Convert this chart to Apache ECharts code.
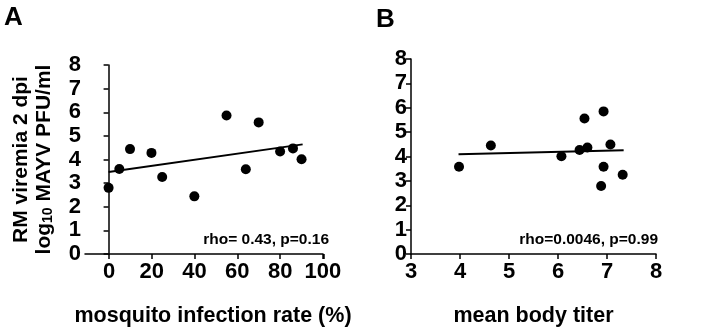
<!DOCTYPE html>
<html>
<head>
<meta charset="utf-8">
<script src="https://cdn.jsdelivr.net/npm/echarts@6/dist/echarts.min.js"></script>
<style>
  html, body { margin: 0; height: 100%; background: #fff; }
  #chart { width: 720px; height: 332px; }
</style>
</head>
<body>
<div id="chart"></div>
<script>
  // panel A: mosquito infection rate (%) vs viremia
  const infectionRate = [0, 5, 10, 20, 25, 40, 55, 64, 70, 80, 86, 90];
  const viremiaA = [2.8, 3.6, 4.44, 4.28, 3.26, 2.44, 5.86, 3.59, 5.57, 4.34, 4.47, 4.01];
  const fitA = [[0, 3.47], [90.5, 4.64]];

  // panel B: mean body titer vs viremia
  const bodyTiter = [3.98, 4.63, 6.07, 6.44, 6.54, 6.6, 6.88, 6.93, 6.93, 7.07, 7.32];
  const viremiaB = [3.58, 4.45, 4.01, 4.27, 5.56, 4.37, 2.79, 5.85, 3.58, 4.49, 3.25];
  const fitB = [[3.97, 4.09], [7.34, 4.26]];

  const statA = 'rho= 0.43, p=0.16';
  const statB = 'rho=0.0046, p=0.99';

  const font = "'Liberation Sans', Arial, sans-serif";
  const axisLine = { lineStyle: { color: '#000', width: 1.5 } };
  const axisTick = { length: 5, lineStyle: { color: '#000', width: 1.5 } };
  const lbl = {
    color: '#000', fontFamily: font, fontWeight: 'bold', fontSize: 22,
    showMinLabel: true, showMaxLabel: true, hideOverlap: false
  };
  const nameStyle = { color: '#000', fontFamily: font, fontWeight: 'bold', fontSize: 21.5 };

  const chart = echarts.init(document.getElementById('chart'), null, { renderer: 'canvas' });

  const option = {
    animation: false,
    backgroundColor: '#fff',
    grid: [
      { left: 85, right: 397, top: 65, bottom: 78 },
      { left: 411, right: 64, top: 59, bottom: 78 },
      // overlay for panel A x ticks: the axis line starts left of 0
      { left: 109, right: 396, top: 65, bottom: 78 }
    ],
    xAxis: [
      {
        gridIndex: 0, type: 'value', min: -11, max: 100,
        splitLine: { show: false },
        axisLine: axisLine,
        axisTick: { show: false },
        axisLabel: { show: false },
        name: 'mosquito infection rate (%)',
        nameLocation: 'middle', nameGap: 51,
        nameTextStyle: Object.assign({ padding: [0, 0, 0, 18] }, nameStyle)
      },
      {
        gridIndex: 1, type: 'value', min: 3, max: 8, interval: 1,
        splitLine: { show: false },
        axisLine: axisLine, axisTick: axisTick,
        axisLabel: Object.assign({ margin: 7 }, lbl),
        name: 'mean body titer',
        nameLocation: 'middle', nameGap: 51,
        nameTextStyle: nameStyle
      },
      {
        gridIndex: 2, type: 'value', min: 0, max: 100.5, interval: 20,
        splitLine: { show: false },
        axisLine: { show: false },
        axisTick: Object.assign({ show: true }, axisTick),
        axisLabel: Object.assign({
          margin: 7,
          formatter: function (v) { return v % 20 === 0 ? String(v) : ''; }
        }, lbl)
      }
    ],
    yAxis: [
      {
        gridIndex: 0, type: 'value', min: 0, max: 8, interval: 1,
        splitLine: { show: false },
        axisLine: axisLine, axisTick: axisTick,
        axisLabel: Object.assign({ margin: 4 }, lbl),
        name: '{a|RM viremia 2 dpi}\n{a|log}{sub|10}{a| MAYV PFU/ml}',
        nameLocation: 'middle', nameRotate: 90, nameGap: 29,
        nameTextStyle: {
          color: '#000', fontFamily: font, fontWeight: 'bold',
          rich: {
            a: { fontSize: 21, lineHeight: 23, fontWeight: 'bold', fontFamily: font, color: '#000' },
            sub: { fontSize: 14, lineHeight: 15, padding: [8, 0, 0, 0], fontWeight: 'bold', fontFamily: font, color: '#000' }
          }
        }
      },
      {
        gridIndex: 1, type: 'value', min: 0, max: 8, interval: 1,
        splitLine: { show: false },
        axisLine: axisLine, axisTick: axisTick,
        axisLabel: Object.assign({ margin: 4 }, lbl)
      },
      { gridIndex: 2, type: 'value', min: 0, max: 8, show: false }
    ],
    graphic: [
      { type: 'text', left: 4, top: 5, style: { text: 'A', font: 'bold 26px ' + font, fill: '#000' } },
      { type: 'text', left: 376, top: 7, style: { text: 'B', font: 'bold 26px ' + font, fill: '#000' } },
      { type: 'text', right: 391, top: 232, style: { text: statA, font: 'bold 15.5px ' + font, fill: '#000' } },
      { type: 'text', right: 62, top: 232, style: { text: statB, font: 'bold 15.5px ' + font, fill: '#000' } }
    ],
    series: [
      {
        type: 'scatter', xAxisIndex: 0, yAxisIndex: 0, symbolSize: 10,
        itemStyle: { color: '#000', opacity: 1 },
        data: infectionRate.map((x, i) => [x, viremiaA[i]])
      },
      {
        type: 'line', xAxisIndex: 0, yAxisIndex: 0, showSymbol: false,
        lineStyle: { color: '#000', width: 2 }, data: fitA
      },
      {
        type: 'scatter', xAxisIndex: 1, yAxisIndex: 1, symbolSize: 10,
        itemStyle: { color: '#000', opacity: 1 },
        data: bodyTiter.map((x, i) => [x, viremiaB[i]])
      },
      {
        type: 'line', xAxisIndex: 1, yAxisIndex: 1, showSymbol: false,
        lineStyle: { color: '#000', width: 2 }, data: fitB
      }
    ]
  };

  chart.setOption(option);
  window.addEventListener('resize', chart.resize);
</script>
</body>
</html>
